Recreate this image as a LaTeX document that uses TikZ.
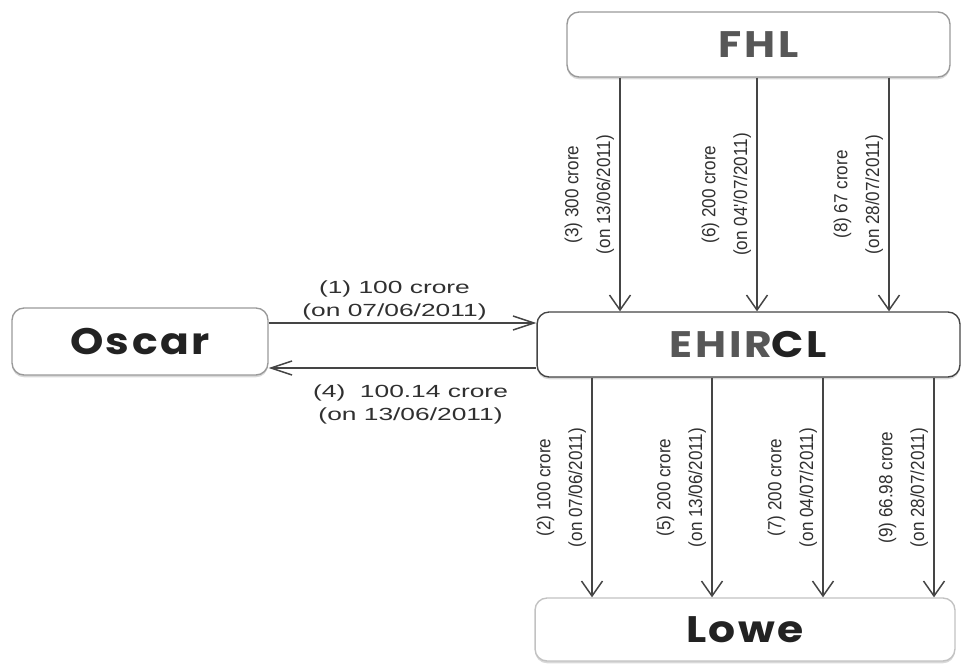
\documentclass[tikz,border=0pt]{standalone}
\usepackage{fontspec}
\setmainfont{Liberation Sans}
\newfontfamily\partyfont[LetterSpace=7,FakeStretch=1.15]{Poppins}
\newfontfamily\widefont[FakeStretch=1.5]{Liberation Sans}
\newfontfamily\narrowfont[FakeStretch=0.9]{Liberation Sans}
\usepackage{xcolor}
\usetikzlibrary{arrows.meta}
\usetikzlibrary{shadows}
\definecolor{flowgray}{HTML}{454545}
\definecolor{labgray}{HTML}{303030}
\definecolor{namegray}{HTML}{575757}
\definecolor{namedark}{HTML}{222222}
\definecolor{edgegray}{HTML}{9A9A9A}
\tikzset{>={Straight Barb[length=3mm,width=4.2mm]}}

\begin{document}
\begin{tikzpicture}[x=0.02cm,y=-0.02cm,
  party/.style={draw=edgegray, line width=0.8pt, rounded corners=2.4mm, fill=white,
    drop shadow={shadow xshift=0pt, shadow yshift=-1.3pt, opacity=0.3},
    font=\partyfont\bfseries\fontsize{21}{24}\selectfont, text=namedark, inner sep=0pt},
  flow/.style={->, draw=flowgray, line width=0.85pt},
  flowh/.style={flow, >={Straight Barb[length=4.2mm,width=2.8mm]}},
  vlab/.style={rotate=90, anchor=south, align=center, text=labgray, inner sep=3pt,
    font=\narrowfont\fontsize{10.8}{18}\selectfont},
  hlab/.style={align=center, text=labgray, inner sep=1pt,
    font=\widefont\fontsize{10}{13.3}\selectfont}]

  \useasboundingbox (0,0) rectangle (963,663);

  \node[party, minimum width=7.66cm, minimum height=1.3cm] (fhl) at (758.5,44.5)
    {\textcolor{namegray}{FHL}};
  \node[party, minimum width=5.12cm, minimum height=1.34cm] (oscar) at (140,341.5) {Oscar};
  \node[party, draw=flowgray, minimum width=8.46cm, minimum height=1.3cm] (ehircl) at (748.5,344.5)
    {\textcolor{namegray}{EHIR}CL};
  \node[party, draw=edgegray!60, minimum width=8.4cm, minimum height=1.26cm] (lowe) at (745,629.5) {Lowe};

  % columns and rows of the flows
  \coordinate (t1) at (620,0);
  \coordinate (t2) at (757,0);
  \coordinate (t3) at (889,0);
  \coordinate (b1) at (592,0);
  \coordinate (b2) at (712,0);
  \coordinate (b3) at (823,0);
  \coordinate (b4) at (934,0);
  \coordinate (h1) at (0,323);
  \coordinate (h2) at (0,368);

  \draw[flowh] (h1 -| oscar.east) -- node[hlab, pos=0.47, above] {(1) 100 crore\\(on 07/06/2011)} (h1 -| ehircl.west);
  \draw[flowh] (h2 -| ehircl.west) -- node[hlab, pos=0.47, below=8pt] {(4)\ \ 100.14 crore\\(on 13/06/2011)} (h2 -| oscar.east);

  \draw[flow] (t1 |- fhl.south) -- node[vlab] {(3) 300 crore\\(on 13/06/2011)} (t1 |- ehircl.north);
  \draw[flow] (t2 |- fhl.south) -- node[vlab] {(6) 200 crore\\(on 04'/07/2011)} (t2 |- ehircl.north);
  \draw[flow] (t3 |- fhl.south) -- node[vlab] {(8) 67 crore\\(on 28/07/2011)} (t3 |- ehircl.north);

  \draw[flow] (b1 |- ehircl.south) -- node[vlab] {(2) 100 crore\\(on 07/06/2011)} (b1 |- lowe.north);
  \draw[flow] (b2 |- ehircl.south) -- node[vlab] {(5) 200 crore\\(on 13/06/2011)} (b2 |- lowe.north);
  \draw[flow] (b3 |- ehircl.south) -- node[vlab] {(7) 200 crore\\(on 04/07/2011)} (b3 |- lowe.north);
  \draw[flow] (b4 |- ehircl.south) -- node[vlab] {(9) 66.98 crore\\(on 28/07/2011)} (b4 |- lowe.north);

\end{tikzpicture}
\end{document}
